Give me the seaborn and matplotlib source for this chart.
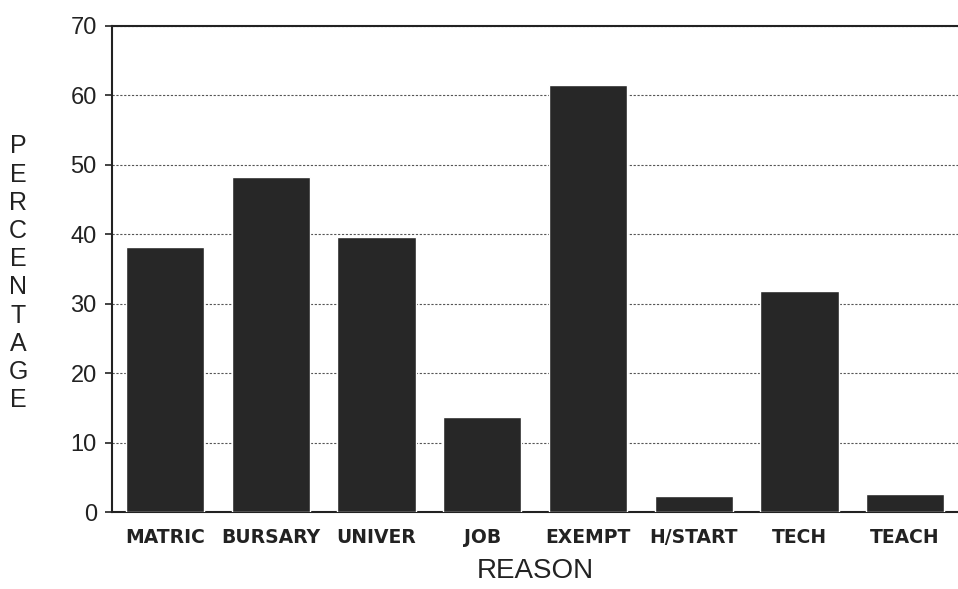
import matplotlib
matplotlib.use('Agg')
import matplotlib.pyplot as plt
import seaborn as sns
import pandas as pd

# --- DATA ---
reasons = ['MATRIC', 'BURSARY', 'UNIVER', 'JOB', 'EXEMPT', 'H/START', 'TECH', 'TEACH']
percentages = [38.2, 48.2, 39.6, 13.7, 61.5, 2.3, 31.8, 2.7]
y_ticks = [0, 10, 20, 30, 40, 50, 60, 70]

df = pd.DataFrame({'Reason': reasons, 'Percentage': percentages})

sns.set_style('white')
plt.rcParams['font.family'] = ['Liberation Sans', 'DejaVu Sans']

fig = plt.figure(figsize=(9.58, 5.89), dpi=100)
ax = fig.add_axes([0.117, 0.13, 0.883, 0.826])

sns.barplot(data=df, x='Reason', y='Percentage', color='#272727',
            width=0.74, saturation=1, ax=ax, zorder=3)

ax.set_ylim(0, 70)
ax.set_xlim(-0.5, 7.5)
ax.set_yticks(y_ticks)
ax.yaxis.grid(True, linestyle=(0, (2, 1.5)), color='#555555', linewidth=0.8, zorder=0)
ax.xaxis.grid(False)

for side in ['left', 'top', 'bottom']:
    ax.spines[side].set_color('#222222')
    ax.spines[side].set_linewidth(1.5)
ax.spines['right'].set_visible(False)

ax.tick_params(axis='y', direction='out', length=5, width=1.2, left=True,
               labelsize=17, pad=6, colors='#222222')
ax.tick_params(axis='x', length=0, pad=11, colors='#222222')
for lbl in ax.get_xticklabels():
    lbl.set_family('DejaVu Sans')
    lbl.set_fontsize(13.5)
    lbl.set_fontweight('bold')

ax.set_xlabel('REASON', fontsize=20, color='#222222', labelpad=8)
ax.set_ylabel('')

# stacked vertical y-axis title
fig.text(0.019, 0.536, '\n'.join('PERCENTAGE'), ha='center', va='center',
         fontsize=18, linespacing=1.22, color='#222222')

fig.savefig('out.png', dpi=100)
